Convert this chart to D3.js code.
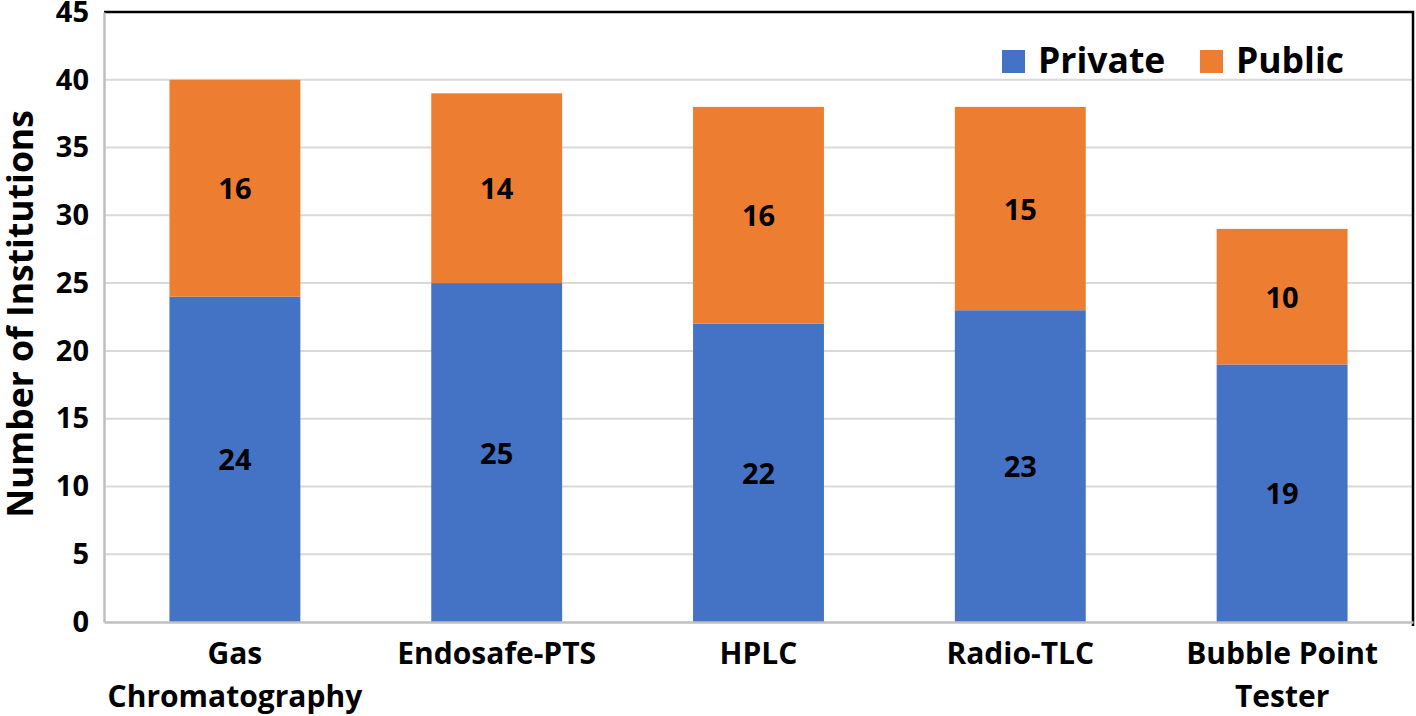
<!DOCTYPE html>
<html>
<head>
<meta charset="utf-8">
<script src="https://cdn.jsdelivr.net/npm/d3@7"></script>
<style>
  body { margin: 0; background: #fff; }
  svg { display: block; font-family: "Open Sans", Lato, sans-serif; font-weight: 700; }
</style>
</head>
<body>
<svg id="chart" width="1416" height="716"></svg>
<script>
const categories = [['Gas', 'Chromatography'], ['Endosafe-PTS'], ['HPLC'], ['Radio-TLC'], ['Bubble Point', 'Tester']];
const privateValues = [24, 25, 22, 23, 19];
const publicValues = [16, 14, 16, 15, 10];
const yTicks = [0, 5, 10, 15, 20, 25, 30, 35, 40, 45];
const seriesNames = ['Private', 'Public'];
const colors = ['#4472C4', '#ED7D31'];

const svg = d3.select('#chart');
const plotLeft = 104, plotRight = 1413, plotTop = 12, plotBottom = 622;

const keys = categories.map(d => d.join(' '));
const rows = keys.map((k, i) => ({ key: k, Private: privateValues[i], Public: publicValues[i] }));
const stack = d3.stack().keys(seriesNames)(rows);

const x = d3.scaleBand()
  .domain(keys)
  .range([plotLeft, plotRight])
  .paddingInner(0.5)
  .paddingOuter(0.25);

const y = d3.scaleLinear()
  .domain([0, 45])
  .range([plotBottom, plotTop]);

// grid
svg.append('g')
  .selectAll('line')
  .data(yTicks.filter(t => t > 0 && t < 45))
  .join('line')
  .attr('x1', plotLeft)
  .attr('x2', plotRight)
  .attr('y1', d => y(d))
  .attr('y2', d => y(d))
  .attr('stroke', '#d9d9d9')
  .attr('stroke-width', 2);

// bars
const layers = svg.append('g')
  .selectAll('g')
  .data(stack)
  .join('g')
  .attr('fill', (d, i) => colors[i]);

layers.selectAll('rect')
  .data(d => d)
  .join('rect')
  .attr('x', d => x(d.data.key))
  .attr('width', x.bandwidth())
  .attr('y', d => y(d[1]))
  .attr('height', d => y(d[0]) - y(d[1]));

// data labels
layers.selectAll('text')
  .data(d => d)
  .join('text')
  .attr('x', d => x(d.data.key) + x.bandwidth() / 2)
  .attr('y', d => y((d[0] + d[1]) / 2))
  .attr('dy', '0.38em')
  .attr('text-anchor', 'middle')
  .attr('fill', '#000')
  .attr('font-size', 29)
  .text(d => d[1] - d[0]);

// frame top/right
svg.append('path')
  .attr('d', `M${plotLeft},${plotTop}H${plotRight}V${plotBottom + 4}`)
  .attr('fill', 'none')
  .attr('stroke', '#000')
  .attr('stroke-width', 2.5);

// y axis
const yAxis = svg.append('g')
  .attr('transform', `translate(${plotLeft},0)`)
  .call(d3.axisLeft(y).tickValues(yTicks).tickSize(0).tickPadding(15));
yAxis.select('.domain').attr('stroke', '#bfbfbf').attr('stroke-width', 2.5);
yAxis.selectAll('text')
  .attr('font-size', 29)
  .attr('font-family', '"Open Sans", sans-serif')
  .attr('font-weight', 700)
  .attr('fill', '#000');

// x axis
const xAxis = svg.append('g')
  .attr('transform', `translate(0,${plotBottom})`)
  .call(d3.axisBottom(x).tickSize(0).tickFormat(''));
xAxis.select('.domain').attr('stroke', '#bfbfbf').attr('stroke-width', 2.5);

svg.append('g')
  .selectAll('text')
  .data(categories)
  .join('text')
  .attr('x', (d, i) => x(keys[i]) + x.bandwidth() / 2)
  .attr('y', 664)
  .attr('text-anchor', 'middle')
  .attr('font-size', 30)
  .attr('fill', '#000')
  .selectAll('tspan')
  .data(d => d)
  .join('tspan')
  .attr('x', function () { return d3.select(this.parentNode).attr('x'); })
  .attr('dy', (d, i) => i === 0 ? 0 : 43)
  .text(d => d);

// y title
svg.append('text')
  .attr('transform', `translate(33,314) rotate(-90)`)
  .attr('text-anchor', 'middle')
  .attr('font-size', 35.5)
  .attr('fill', '#000')
  .text('Number of Institutions');

// legend
const legendX = [1002, 1200];
const legend = svg.append('g')
  .selectAll('g')
  .data(seriesNames)
  .join('g')
  .attr('transform', (d, i) => `translate(${legendX[i]},50)`);
legend.append('rect')
  .attr('width', 23)
  .attr('height', 23)
  .attr('fill', (d, i) => colors[i]);
legend.append('text')
  .attr('x', 36)
  .attr('y', 23)
  .attr('font-size', 35.5)
  .attr('fill', '#000')
  .text(d => d);
</script>
</body>
</html>
